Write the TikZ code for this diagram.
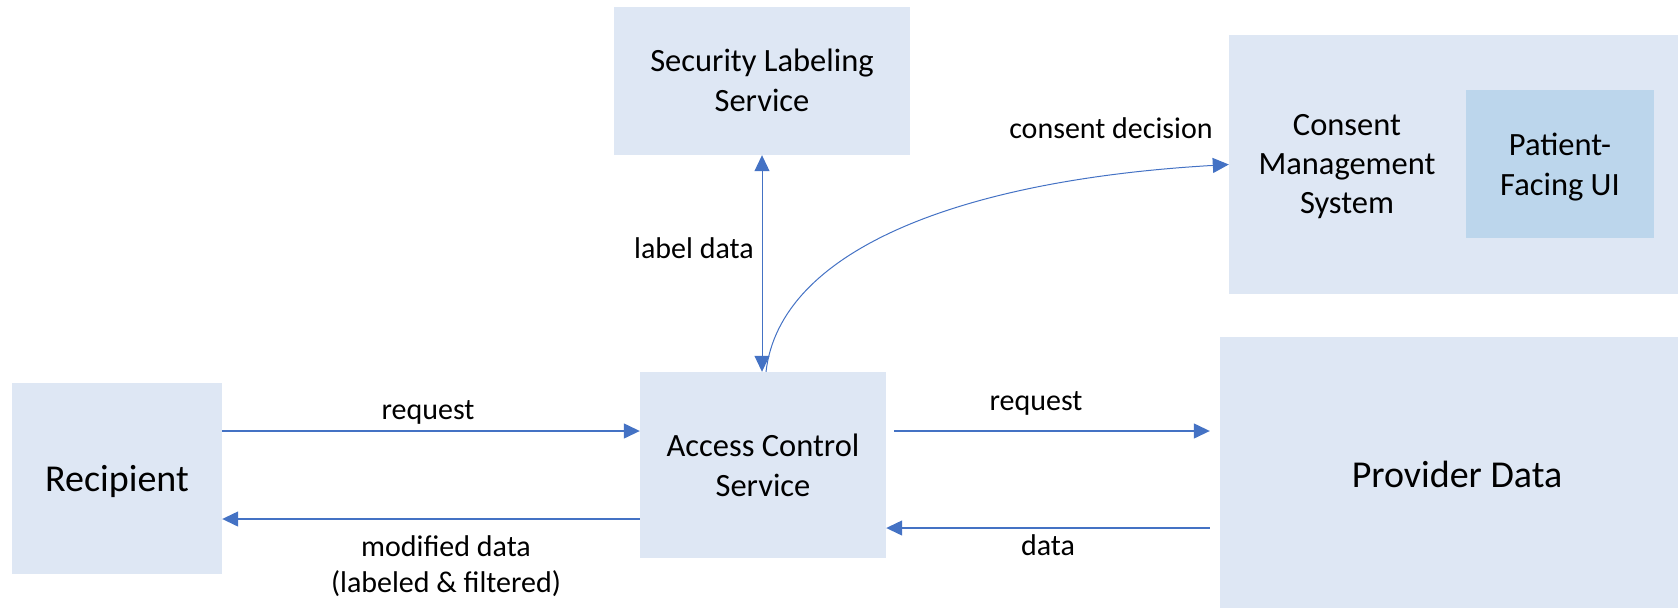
\documentclass[tikz,border=0pt]{standalone}
\usepackage{fontspec}
\setmainfont{Carlito}
\usetikzlibrary{arrows.meta}
\definecolor{boxfill}{HTML}{DEE7F4}
\definecolor{innerfill}{HTML}{BCD6EC}
\definecolor{linkblue}{HTML}{4472C4}
\tikzset{
  box/.style={fill=boxfill, draw=none, inner sep=0pt, minimum width=#1},
  innerbox/.style={fill=innerfill, draw=none, inner sep=0pt},
  bigtxt/.style={anchor=base, inner sep=0pt, align=center, font=\fontsize{38pt}{46pt}\selectfont},
  boxtxt/.style={anchor=base, inner sep=0pt, align=center, font=\fontsize{32.5pt}{40pt}\selectfont},
  lbltxt/.style={anchor=base, inner sep=0pt, align=center, font=\fontsize{30pt}{36pt}\selectfont},
  link/.style={draw=linkblue, line width=1.3pt, -{Triangle[length=16pt,width=15pt]}},
  thinlink/.style={draw=linkblue, line width=1pt, -{Triangle[length=16pt,width=15pt]}},
}
\begin{document}
\begin{tikzpicture}[x=1pt, y=-1pt]
  \useasboundingbox (0,0) rectangle (1678,608);

  % boxes
  \node[box=296pt, minimum height=148pt] (sls) at (762,81) {};
  \node[box=246pt, minimum height=186pt] (acs) at (763,465) {};
  \node[box=210pt, minimum height=191pt] (rcp) at (117,478.5) {};
  \node[box=449pt, minimum height=259pt] (cms) at (1453.5,164.5) {};
  \node[innerbox, minimum width=188pt, minimum height=148pt] (pui) at (1560,164) {};
  \node[box=458pt, minimum height=271pt] (pd) at (1449,472.5) {};

  % box texts (multi-line nodes sit on the baseline of their last line)
  \node[boxtxt] (slsT) at (762,111) {Security Labeling\\Service};
  \node[boxtxt] (acsT) at (763,496) {Access Control\\Service};
  \node[boxtxt, font=\fontsize{32.5pt}{39pt}\selectfont] (cmsT) at (1347,213) {Consent\\Management\\System};
  \node[boxtxt] (puiT) at (1560,195) {Patient-\\Facing UI};
  \node[bigtxt] (rcpT) at (117,491) {Recipient};
  \node[bigtxt] (pdT) at (1457,487) {Provider Data};

  % connectors
  \draw[thinlink, {Triangle[length=16pt,width=15pt]}-{Triangle[length=16pt,width=15pt]}]
    (sls.south) -- (sls.south |- acs.north);
  \draw[thinlink] ([xshift=3pt]acs.north) .. controls (780,250) and (960,180) .. (cms.west);
  \draw[link] ([yshift=47.5pt]rcp.east) -- ([yshift=47.5pt]rcp.east -| acs.west);
  \draw[link] ([yshift=-54pt]acs.west) -- ([yshift=-54pt]acs.west -| rcp.east);
  \draw[link, shorten <=8pt, shorten >=10pt] ([yshift=34pt]acs.east) -- ([yshift=34pt]acs.east -| pd.west);
  \draw[link, shorten <=10pt] ([yshift=-63pt]acs.east -| pd.west) -- ([yshift=-63pt]acs.east);

  % connector labels
  \node[lbltxt] (lblLabel) at (694,258) {label data};
  \node[lbltxt] (lblConsent) at (1111,138) {consent decision};
  \node[lbltxt] (lblReqA) at (428,419) {request};
  \node[lbltxt] (lblMod) at (446,592) {modified data\\(labeled \& filtered)};
  \node[lbltxt] (lblReqB) at (1036,410) {request};
  \node[lbltxt] (lblData) at (1048,555) {data};
\end{tikzpicture}
\end{document}
